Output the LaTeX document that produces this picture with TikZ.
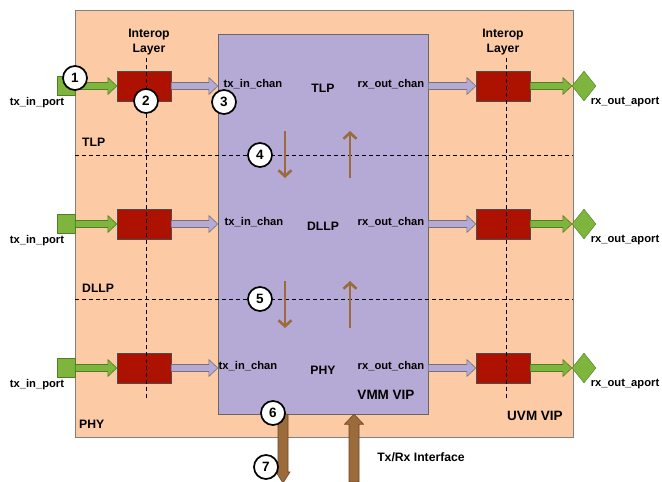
\documentclass[tikz,border=0pt]{standalone}
\usepackage{fontspec}
\setmainfont{Liberation Sans}
\usetikzlibrary{calc,shapes.geometric,arrows.meta}

\definecolor{uvmbg}{HTML}{FCCBA6}
\definecolor{vmmbg}{HTML}{B5AAD5}
\definecolor{interopred}{HTML}{AD1100}
\definecolor{portgreen}{HTML}{7DB53E}
\definecolor{portline}{HTML}{4F7F22}
\definecolor{ifbrown}{HTML}{9C6B3C}
\definecolor{ifline}{HTML}{6B4520}

% block arrow: style, start, end, shaft half, head half, head length
\newcommand\blkarrow[6]{%
  \path #2 coordinate (ba-s) #3 coordinate (ba-e);
  \path ($(ba-e)!#6!(ba-s)$) coordinate (ba-h);
  \draw[#1] ($(ba-s)!#4!90:(ba-e)$) -- ($(ba-h)!#4!90:(ba-e)$) -- ($(ba-h)!#5!90:(ba-e)$)
    -- (ba-e) -- ($(ba-h)!#5!-90:(ba-e)$) -- ($(ba-h)!#4!-90:(ba-e)$)
    -- ($(ba-s)!#4!-90:(ba-e)$) -- cycle;
}

\tikzset{
  lbl/.style={font=\fontsize{11.2}{13}\selectfont\bfseries, inner sep=0pt},
  biglbl/.style={font=\fontsize{12.2}{14}\selectfont\bfseries, inner sep=0pt},
  viplbl/.style={font=\fontsize{13.5}{15}\selectfont\bfseries, inner sep=0pt},
  uvmbox/.style={draw=black!50, fill=uvmbg, minimum width=498pt, minimum height=427pt, inner sep=0pt},
  vmmbox/.style={draw=black!60, fill=vmmbg, minimum width=210pt, minimum height=380pt, inner sep=0pt},
  interop/.style={draw=black!70, fill=interopred, minimum width=54pt, minimum height=30pt, inner sep=0pt},
  txport/.style={draw=portline, fill=portgreen, minimum width=18pt, minimum height=19pt, inner sep=0pt},
  rxport/.style={diamond, draw=portline, fill=portgreen, minimum width=24pt, minimum height=30pt, inner sep=0pt},
  greenarr/.style={draw=portline, fill=portgreen, line width=0.6pt},
  chanarr/.style={draw=black!55, fill=vmmbg, line width=0.6pt},
  ifarr/.style={draw=ifline, fill=ifbrown, line width=0.6pt},
  layerline/.style={dashed, dash pattern=on 4pt off 3pt, line width=0.8pt},
  flowarr/.style={ifbrown, line width=2.6pt, -{Straight Barb[length=6pt, width=13pt]}},
  callout/.style={circle, draw=black, fill=white, line width=1.7pt, minimum size=24pt, inner sep=0pt,
    font=\fontsize{13.5}{15}\selectfont\bfseries},
}

\begin{document}
\begin{tikzpicture}[x=1pt, y=-1pt]
  \useasboundingbox (0,0) rectangle (662,482);

  % VIP blocks
  \node[uvmbox] (uvm) at (324,223.5) {};
  \node[vmmbox] (vmm) at (323,224) {};

  % interop layer boundaries
  \coordinate (ilt) at (146,58);
  \coordinate (ilb) at (146,400);
  \coordinate (irt) at (506,58);
  \coordinate (irb) at (506,400);

  % layer boundaries
  \coordinate (tlpl) at (uvm.west |- 0,155);
  \coordinate (tlpr) at (uvm.east |- 0,155);
  \coordinate (dllpl) at (uvm.west |- 0,299);
  \coordinate (dllpr) at (uvm.east |- 0,299);
  \draw[layerline] (tlpl) -- (tlpr);
  \draw[layerline] (dllpl) -- (dllpr);

  % ports, interop boxes and channels per layer
  \foreach \y/\r/\lyr/\cx in {86/1/TLP/253, 224/2/DLLP/254, 368/3/PHY/248} {
    \node[txport] (txp\r) at (66,\y) {};
    \node[interop] (ltx\r) at (144,\y) {};
    \node[interop] (rrx\r) at (503,\y) {};
    \node[rxport] (rxp\r) at (584,\y) {};
    \blkarrow{greenarr}{(txp\r.east)}{(ltx\r.west)}{3.5pt}{8.5pt}{9pt}
    \blkarrow{chanarr}{(ltx\r.east)}{(ltx\r.east -| vmm.west)}{3.5pt}{8.5pt}{9pt}
    \blkarrow{chanarr}{(rrx\r.west -| vmm.east)}{(rrx\r.west)}{3.5pt}{8.5pt}{9pt}
    \blkarrow{greenarr}{(rrx\r.east)}{(rxp\r.west)}{3.5pt}{8.5pt}{9pt}
    \node[lbl] (txpl\r) at (37,\y+17) {tx\_in\_port};
    \node[lbl] (rxpl\r) at (625,\y+16) {rx\_out\_aport};
    \node[lbl] (txc\r) at (\cx,\y-2) {tx\_in\_chan};
    \node[lbl] (rxc\r) at (391,\y-2) {rx\_out\_chan};
    \node[biglbl] (lyr\r) at (323,\y+2) {\lyr};
  }

  % interop dashed lines drawn over the boxes
  \draw[layerline] (ilt) -- (ilb);
  \draw[layerline] (irt) -- (irb);

  % labels
  \node[biglbl, align=center] (ilabl) at (149,42) {Interop\\[1pt]Layer};
  \node[biglbl, align=center] (ilabr) at (503,42) {Interop\\[1pt]Layer};
  \node[biglbl, anchor=west] (ltlp) at (82,142) {TLP};
  \node[biglbl, anchor=west] (ldllp) at (82,288) {DLLP};
  \node[biglbl, anchor=west] (lphy) at (79,424) {PHY};
  \node[viplbl] (luvm) at (535,416) {UVM VIP};
  \node[viplbl] (lvmm) at (386,395) {VMM VIP};
  \node[biglbl] (lif) at (421,457) {Tx/Rx Interface};

  % layer to layer flow
  \foreach \ya/\yb/\k in {131/178/a, 281/328/b} {
    \coordinate (dn\k s) at (285,\ya);
    \coordinate (dn\k e) at (285,\yb);
    \coordinate (up\k s) at (350,\yb);
    \coordinate (up\k e) at (350,\ya);
    \draw[flowarr] (dn\k s) -- (dn\k e);
    \draw[flowarr] (up\k s) -- (up\k e);
  }

  % Tx/Rx interface
  \coordinate (ifout) at (283,483);
  \coordinate (ifin) at (354,482);
  \blkarrow{ifarr}{(vmm.south -| ifout)}{(ifout)}{5pt}{7pt}{11pt}
  \blkarrow{ifarr}{(ifin)}{(vmm.south -| ifin)}{5pt}{9.5pt}{10pt}

  % numbered steps
  \node[callout] (c1) at (75,78) {1};
  \node[callout] (c2) at (146,101) {2};
  \node[callout] (c3) at (224,102) {3};
  \node[callout] (c4) at (260,155) {4};
  \node[callout] (c5) at (260,299) {5};
  \node[callout] (c6) at (273,413) {6};
  \node[callout] (c7) at (266,467) {7};
\end{tikzpicture}
\end{document}
